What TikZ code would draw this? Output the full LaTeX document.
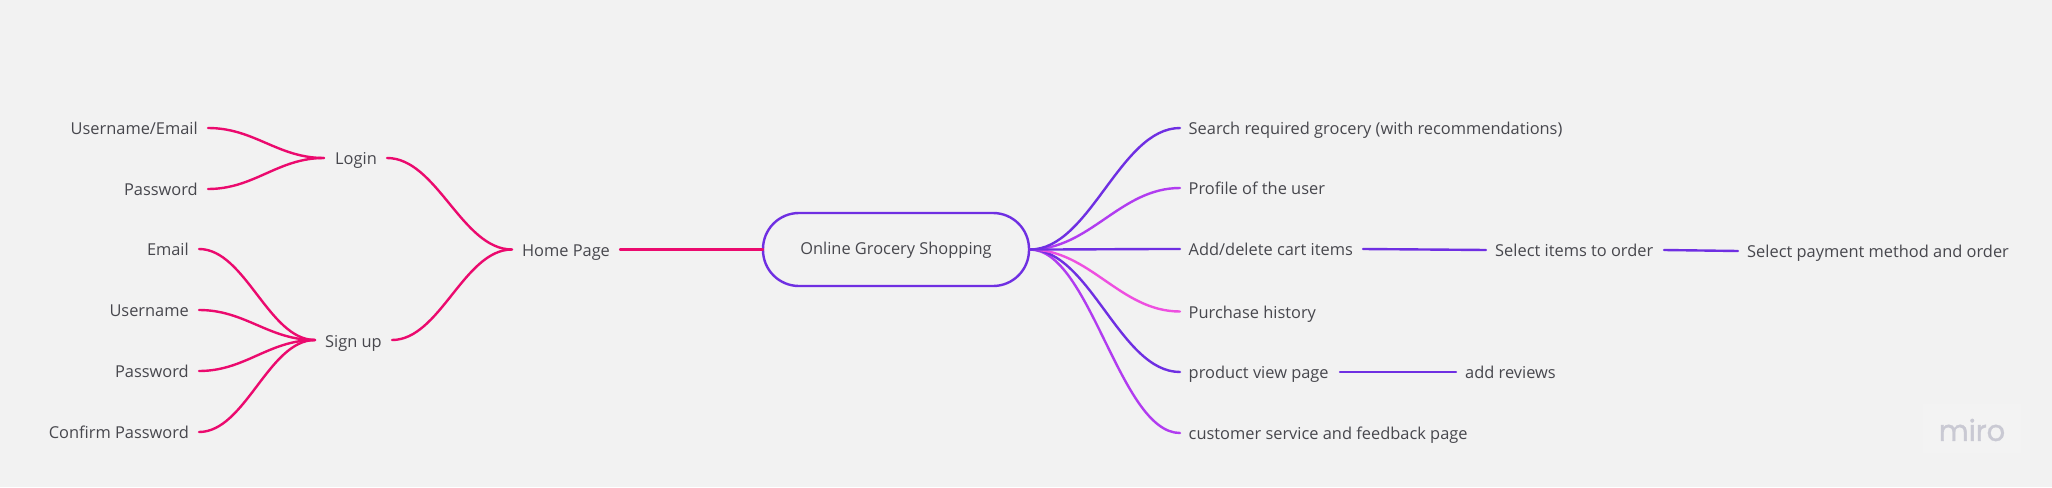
\documentclass[tikz,border=0pt]{standalone}
\usepackage{fontspec}
\setmainfont{Open Sans}
\newfontfamily\logofont[FakeBold=1.2]{Poppins}
\usetikzlibrary{calc}
\definecolor{bgc}{HTML}{F2F2F2}
\definecolor{pinkc}{HTML}{EB0A6E}
\definecolor{viol}{HTML}{6F2FE2}
\definecolor{purp}{HTML}{B13CF0}
\definecolor{magn}{HTML}{EE4FE0}
\definecolor{txt}{HTML}{47474D}
\definecolor{logoc}{HTML}{C9C9D3}
\tikzset{x=1pt,y=-1pt,
  lbl/.style={inner sep=0pt,font=\fontsize{16.4}{20}\selectfont,text=txt,text height=12.5pt,text depth=3.5pt},
  lft/.style={lbl,anchor=east},
  rgt/.style={lbl,anchor=west},
  con/.style={line width=2.4pt,line cap=round},
}
\newcommand{\lnk}[3]{\draw[con,#1] let \p1=(#2),\p2=(#3),\n1={0.4*(\x2-\x1)} in (\p1) .. controls ([xshift=\n1]\p1) and ([xshift=-\n1]\p2) .. (\p2);}
\begin{document}
\begin{tikzpicture}
\useasboundingbox (0,0) rectangle (2052,487);
\fill[bgc] (0,0) rectangle (2052,487);
% centre
\node[draw=viol,line width=2.4pt,rounded corners=36pt,minimum width=266pt,minimum height=73pt,inner sep=0pt,font=\fontsize{16.4}{20}\selectfont,text=txt,text height=13.5pt,text depth=3.5pt] (root) at (896,249.5) {Online Grocery Shopping};
\coordinate (rootR) at (1030,249.5);
\coordinate (rootL) at (763,249.5);
% left labels
\node[lbl] (home) at (566,251.5) {Home Page};
\node[lbl] (login) at (356,160) {Login};
\node[lbl] (signup) at (353.5,342.5) {Sign up};
\node[lft] (ue) at (198,130) {Username/Email};
\node[lft] (p1) at (198,191) {Password};
\node[lft] (em) at (189,251) {Email};
\node[lft] (un) at (189,312) {Username};
\node[lft] (p2) at (189,373) {Password};
\node[lft] (cp) at (189,434) {Confirm Password};
\coordinate (homeL) at (512,249.5);
\coordinate (homeR) at (620,249.5);
\coordinate (loginL) at (324,158);
\coordinate (loginR) at (387,158);
\coordinate (signL) at (315,340);
\coordinate (signR) at (392,340);
\coordinate (ueR) at (208,128);
\coordinate (p1R) at (208,189);
\coordinate (emR) at (199,249);
\coordinate (unR) at (199,310);
\coordinate (p2R) at (199,371);
\coordinate (cpR) at (199,432);
\draw[con,pinkc] (homeR) -- (rootL);
\lnk{pinkc}{loginR}{homeL}
\lnk{pinkc}{signR}{homeL}
\lnk{pinkc}{ueR}{loginL}
\lnk{pinkc}{p1R}{loginL}
\lnk{pinkc}{emR}{signL}
\lnk{pinkc}{unR}{signL}
\lnk{pinkc}{p2R}{signL}
\lnk{pinkc}{cpR}{signL}
% right labels
\node[rgt] (a) at (1188.5,130) {Search required grocery (with recommendations)};
\node[rgt] (b) at (1188.5,190) {Profile of the user};
\node[rgt] (c) at (1188.5,251) {Add/delete cart items};
\node[rgt] (d) at (1188.5,313.5) {Purchase history};
\node[rgt] (e) at (1188.5,374) {product view page};
\node[rgt] (f) at (1188.5,435) {customer service and feedback page};
\node[rgt] (c2) at (1495,252) {Select items to order};
\node[rgt] (c3) at (1747,253) {Select payment method and order};
\node[rgt] (e2) at (1465,374) {add reviews};
\coordinate (aL) at (1180,128);
\coordinate (bL) at (1180,188);
\coordinate (cL) at (1180,249);
\coordinate (dL) at (1180,311.5);
\coordinate (eL) at (1180,372);
\coordinate (fL) at (1180,433);
\lnk{purp}{rootR}{fL}
\lnk{viol}{rootR}{eL}
\lnk{magn}{rootR}{dL}
\lnk{purp}{rootR}{bL}
\lnk{viol}{rootR}{aL}
\lnk{viol}{rootR}{cL}
\coordinate (cR) at (1363,249);
\coordinate (c2L) at (1486,250);
\coordinate (c2R) at (1664,250);
\coordinate (c3L) at (1738,251);
\coordinate (eR) at (1340,372);
\coordinate (e2L) at (1456,372);
\draw[con,viol] (cR) -- (c2L);
\draw[con,viol] (c2R) -- (c3L);
\draw[con,viol] (eR) -- (e2L);
% watermark
\fill[white,opacity=0.15] (1923,404) rectangle (2021,453);
\node[inner sep=0pt,font=\fontsize{29}{30}\logofont,text=logoc] (miro) at (1972,430) {miro};
\end{tikzpicture}
\end{document}
